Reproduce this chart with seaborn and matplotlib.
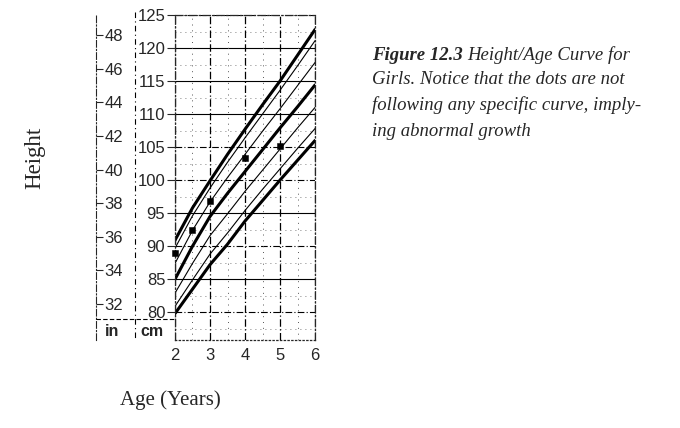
import numpy as np
import pandas as pd
import seaborn as sns
import matplotlib
matplotlib.use('Agg')
import matplotlib.pyplot as plt
from matplotlib.lines import Line2D

# reference curves (cm)
age = [2, 2.5, 3, 3.5, 4, 4.5, 5, 5.5, 6]
p95 = [90.9, 95.8, 99.9, 103.9, 107.7, 111.4, 115.0, 118.9, 122.8]
p90 = [89.7, 94.6, 98.8, 102.7, 106.4, 110.0, 113.6, 117.3, 121.1]
p75 = [87.4, 92.4, 96.7, 100.4, 103.9, 107.4, 110.8, 114.3, 117.8]
p50 = [85.0, 90.0, 94.5, 98.0, 101.3, 104.6, 107.9, 111.1, 114.4]
p25 = [82.9, 87.4, 91.6, 94.9, 98.3, 101.5, 104.7, 107.9, 111.0]
p10 = [80.9, 84.9, 88.8, 92.0, 95.4, 98.6, 101.7, 104.8, 107.8]
p5 = [79.8, 83.5, 87.2, 90.3, 93.8, 96.9, 100.0, 103.0, 106.0]

# the child's measurements
dot_age = [2, 2.5, 3, 4, 5]
dot_cm = [88.9, 92.4, 96.8, 103.4, 105.1]

cm_ticks = [80, 85, 90, 95, 100, 105, 110, 115, 120, 125]
in_ticks = [32, 34, 36, 38, 40, 42, 44, 46, 48]
year_ticks = [2, 3, 4, 5, 6]

curves = {'95': p95, '90': p90, '75': p75, '50': p50, '25': p25, '10': p10, '5': p5}
df = pd.DataFrame([(k, a, v) for k, vals in curves.items() for a, v in zip(age, vals)],
                  columns=['pct', 'age', 'cm'])
dots = pd.DataFrame({'age': dot_age, 'cm': dot_cm})

sns.set_style('white')
plt.rcParams['font.family'] = ['Liberation Sans', 'DejaVu Sans']

W, H = 680, 428
fig = plt.figure(figsize=(6.8, 4.28), dpi=100)
ax = fig.add_axes([175 / W, 1 - 340 / H, 140 / W, 325 / H])

thick = {'95': 2.2, '50': 2.2, '5': 2.2, '90': 0.8, '75': 0.8, '25': 0.8, '10': 0.8}
sns.lineplot(data=df, x='age', y='cm', hue='pct', size='pct', sizes=thick,
             palette={k: 'black' for k in curves}, legend=False, ax=ax)
sns.scatterplot(data=dots, x='age', y='cm', color='black', s=22, marker='s',
                edgecolor='black', ax=ax, zorder=5, clip_on=False)

ax.set_xlim(2, 6)
ax.set_ylim(75.8, 125)
ax.set_xticks(year_ticks)
ax.set_yticks(cm_ticks)
ax.set_xlabel('')
ax.set_ylabel('')

# grid
for c in cm_ticks:
    ls = '-' if c in (85, 95, 110, 115, 120) else (0, (6, 2, 1, 2))
    ax.axhline(c, color='black', lw=0.8, ls=ls, zorder=1)
for c in np.arange(77.5, 125, 5):
    ax.axhline(c, color='#555555', lw=0.6, ls=(0, (1, 5)), zorder=1)
for a in year_ticks:
    ax.axvline(a, color='black', lw=0.9, ls=(0, (6, 2, 1, 2)), zorder=1)
for a in [2.5, 3.5, 4.5, 5.5]:
    ax.axvline(a, color='#555555', lw=0.7, ls=(0, (1, 5)), zorder=1)

for s in ['top', 'right', 'left']:
    ax.spines[s].set_linestyle((0, (6, 2, 1, 2)))
    ax.spines[s].set_linewidth(0.9)
ax.spines['bottom'].set_linestyle((0, (1, 2)))
ax.spines['bottom'].set_linewidth(0.9)

ax.tick_params(axis='y', direction='out', length=6, width=0.8, pad=1, labelsize=12,
               left=True)
ax.tick_params(axis='x', direction='out', length=0, pad=6, labelsize=12, bottom=False)

# inch scale
ax_in = fig.add_axes([88 / W, 1 - 340 / H, 8 / W, 325 / H])
ax_in.set_ylim(75.8 / 2.54, 125 / 2.54)
ax_in.set_yticks(in_ticks)
ax_in.set_xticks([])
ax_in.yaxis.tick_right()
for s in ['top', 'left', 'bottom']:
    ax_in.spines[s].set_visible(False)
ax_in.spines['right'].set_linestyle((0, (6, 2, 1, 2)))
ax_in.spines['right'].set_linewidth(0.8)
ax_in.tick_params(axis='y', direction='out', length=5, width=0.8, pad=1, labelsize=12)
ax_in.patch.set_alpha(0)

# separators of the scale columns
fig.add_artist(Line2D([135 / W, 135 / W], [1 - 12 / H, 1 - 340 / H], color='black',
                      lw=0.8, ls=(0, (5, 3, 1, 3))))
fig.add_artist(Line2D([96 / W, 175 / W], [1 - 319 / H, 1 - 319 / H], color='black',
                      lw=0.8, ls=(0, (4, 2))))
fig.text(112 / W, 1 - 331 / H, 'in', ha='center', va='center', fontsize=11.5,
         fontweight='bold')
fig.text(152 / W, 1 - 331 / H, 'cm', ha='center', va='center', fontsize=11.5,
         fontweight='bold')

fig.text(170 / W, 1 - 400 / H, 'Age (Years)', ha='center', va='center',
         fontsize=15, family='Liberation Serif')
fig.text(35 / W, 1 - 158 / H, 'Height', ha='center', va='center', rotation=90,
         fontsize=16.5, family='Liberation Serif')

# caption
cap_x = 372 / W
cap_fs = 13.5
t = fig.text(cap_x, 1 - 55 / H, 'Figure 12.3', fontsize=cap_fs, family='Liberation Serif',
             style='italic', fontweight='bold', va='center')
fig.canvas.draw()
bb = t.get_window_extent()
fig.text(bb.x1 / W + 4 / W, 1 - 55 / H, 'Height/Age Curve for', fontsize=cap_fs,
         family='Liberation Serif', style='italic', va='center')
cap_lines = ['Girls. Notice that the dots are not',
             'following any specific curve, imply-',
             'ing abnormal growth']
for i, line in enumerate(cap_lines):
    fig.text(cap_x, 1 - (80 + 25.5 * i) / H, line, fontsize=cap_fs,
             family='Liberation Serif', style='italic', va='center')

fig.savefig('out.png', dpi=100)
